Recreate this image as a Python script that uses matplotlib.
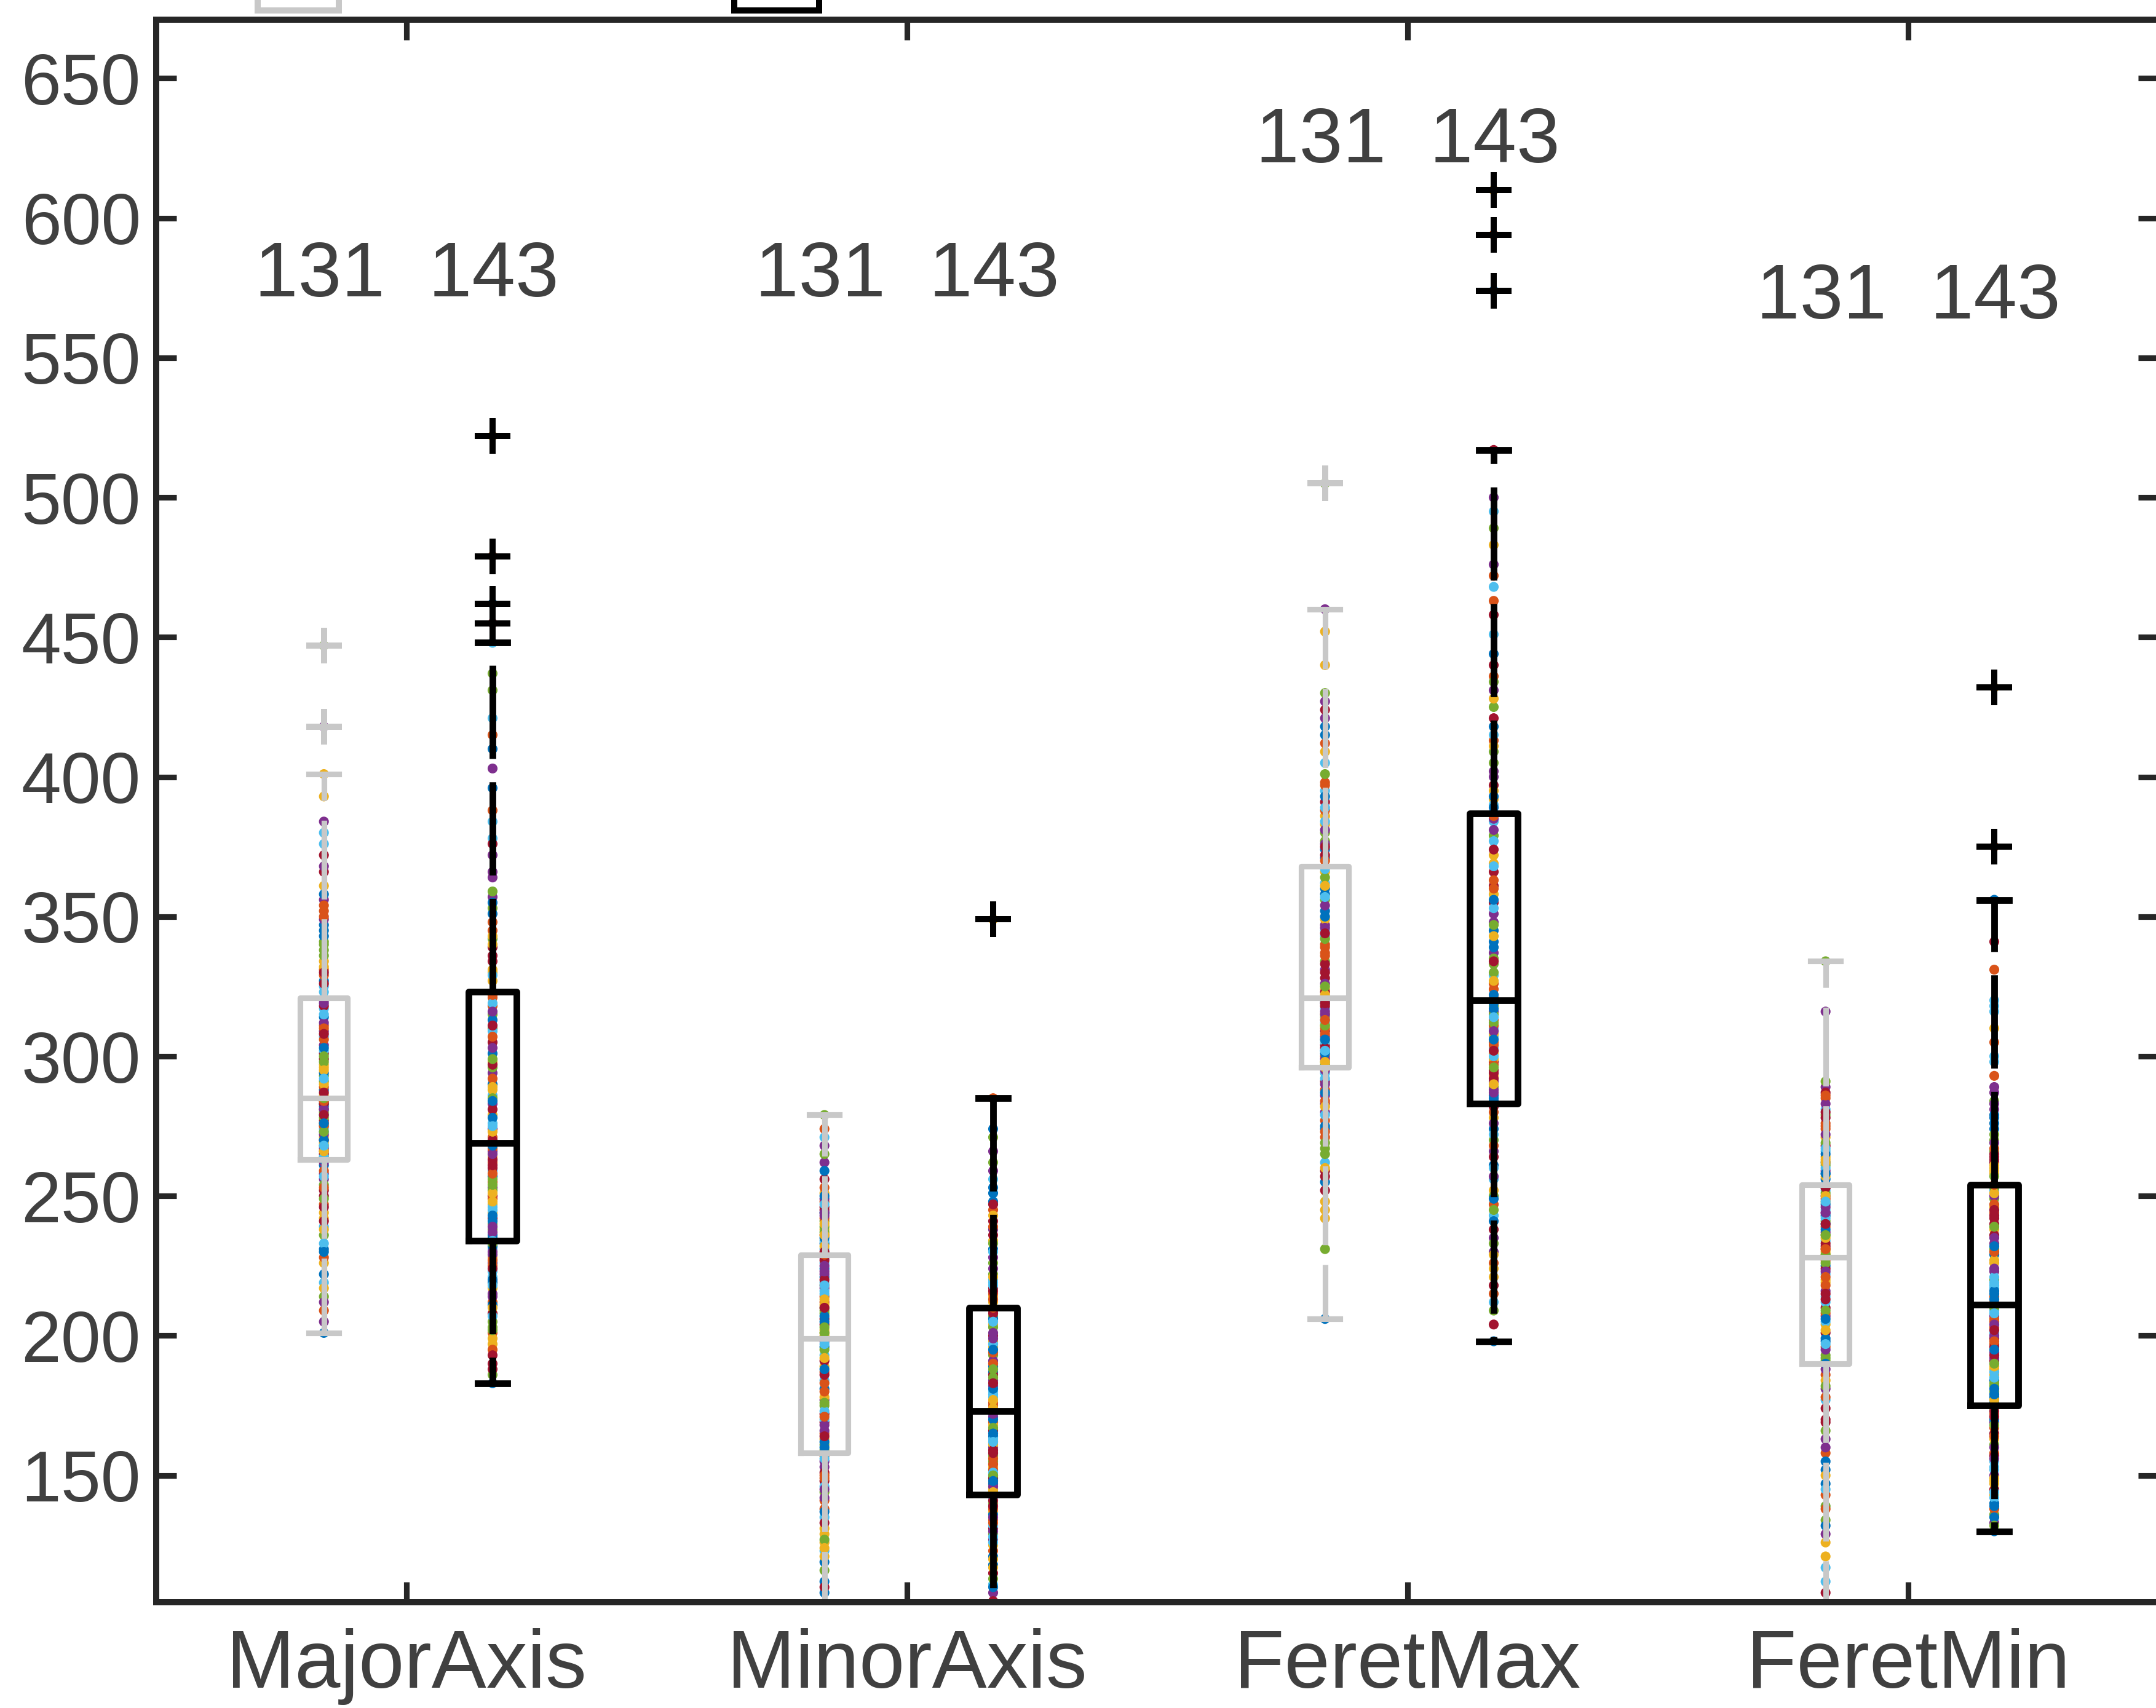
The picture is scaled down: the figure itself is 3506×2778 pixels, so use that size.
import numpy as np
import matplotlib
matplotlib.use('Agg')
import matplotlib.pyplot as plt
from matplotlib.patches import Rectangle

plt.rcParams['font.family'] = ['Liberation Sans', 'DejaVu Sans']

categories = ['MajorAxis', 'MinorAxis', 'FeretMax', 'FeretMin']

# ---------------- grey group (131 per feature) ----------------
grey_major = [201, 247, 226, 258, 214, 239, 252, 231, 209, 244, 256, 236, 219, 250, 261, 228, 242, 205, 254, 233,
              246, 222, 259, 238, 212, 249, 257, 241, 230, 253, 217, 262,
              264, 279, 270, 283, 266, 275, 281, 268, 273, 277, 263, 284, 271, 267, 280, 274, 265, 282, 276, 269,
              272, 278, 264, 283, 270, 275, 266, 281, 273, 268, 279, 276, 284,
              286, 304, 293, 317, 299, 288, 311, 296, 320, 291, 307, 301, 314, 289, 297, 309, 285, 302, 318, 294,
              306, 290, 312, 298, 315, 287, 303, 310, 295, 319, 300, 292, 308,
              327, 352, 334, 384, 341, 323, 366, 347, 329, 393, 356, 338, 325, 372, 345, 331, 361, 349, 336, 380,
              326, 343, 354, 332, 368, 340, 376, 330, 358, 350, 401,
              418, 447]
grey_minor = [112, 141, 126, 153, 104, 135, 148, 119, 157, 131, 98, 144, 123, 151, 108, 138, 129, 155, 116, 146,
              133, 101, 150, 121, 142, 127, 156, 110, 137, 149, 124, 145,
              161, 184, 172, 196, 165, 189, 177, 159, 193, 169, 181, 187, 163, 198, 175, 170, 191, 160, 183, 178,
              166, 195, 173, 186, 162, 180, 192, 168, 176, 197, 164, 188, 171,
              201, 217, 208, 226, 204, 221, 212, 200, 228, 210, 219, 206, 224, 214, 202, 222, 209, 216, 227, 205,
              218, 211, 225, 203, 215, 220, 207, 229, 213, 223, 201, 218, 210,
              233, 248, 238, 262, 241, 231, 256, 244, 236, 251, 268, 239, 234, 246, 259, 242, 232, 249, 237, 271,
              245, 235, 253, 240, 243, 265, 247, 230, 250, 274, 236, 244, 279]
grey_feretmax = [206, 271, 248, 286, 231, 262, 291, 255, 277, 242, 283, 267, 294, 259, 274, 288, 245, 280, 265, 292,
                 252, 275, 284, 260, 290, 269, 279, 257, 287, 273, 282, 295,
                 298, 312, 304, 319, 300, 315, 307, 297, 317, 309, 302, 320, 311, 299, 314, 305, 318, 301, 310, 296,
                 316, 306, 313, 303, 320, 308, 298, 315, 311, 302, 319, 306, 313,
                 324, 347, 334, 362, 328, 352, 340, 366, 331, 356, 343, 323, 360, 337, 349, 326, 364, 345, 333, 358,
                 339, 322, 354, 342, 367, 330, 350, 336, 361, 346, 325, 357, 344,
                 374, 398, 383, 421, 377, 405, 391, 371, 412, 386, 427, 380, 395, 372, 418, 388, 440, 376, 401, 384,
                 424, 393, 370, 409, 381, 430, 389, 375, 415, 397, 452, 460,
                 505]
grey_feretmin = [101, 158, 126, 181, 139, 112, 170, 147, 186, 121, 163, 134, 177, 108, 152, 143, 184, 129, 166, 117,
                 174, 155, 138, 98, 160, 182, 145, 169, 132, 178, 150, 188,
                 193, 214, 201, 225, 196, 219, 207, 191, 222, 210, 198, 227, 204, 216, 192, 212, 224, 199, 208, 220,
                 195, 226, 205, 213, 190, 218, 202, 223, 209, 197, 215, 206, 221,
                 230, 244, 236, 252, 232, 247, 239, 229, 250, 241, 234, 253, 243, 231, 248, 237, 251, 245, 233, 240,
                 249, 235, 246, 229, 242, 253, 238, 231, 250, 244, 236, 248, 240,
                 258, 276, 264, 289, 261, 281, 268, 256, 285, 271, 259, 279, 266, 287, 262, 274, 257, 283, 269, 260,
                 278, 265, 286, 263, 272, 291, 267, 280, 258, 275, 262, 316, 334]

# ---------------- black group (143 per feature) ----------------
black_major = [183, 212, 197, 226, 205, 231, 190, 219, 201, 228, 214, 186, 223, 208, 232, 195, 217, 229, 203, 221,
               188, 211, 225, 199, 215, 233, 207, 193, 220, 227, 210, 230, 202, 218, 224,
               236, 255, 244, 266, 240, 259, 250, 235, 262, 247, 253, 238, 268, 242, 257, 249, 264, 237, 252, 245,
               260, 241, 267, 251, 239, 256, 246, 263, 243, 258, 248, 265, 254, 234, 261, 268,
               271, 298, 283, 315, 276, 305, 290, 321, 279, 294, 310, 286, 270, 301, 318, 288, 274, 296, 309, 281,
               313, 292, 273, 303, 285, 319, 297, 278, 307, 289, 316, 299, 275, 311, 284, 322,
               331, 357, 342, 378, 336, 396, 348, 327, 366, 353, 384, 339, 410, 345, 330, 372, 359, 421, 334, 351,
               388, 343, 364, 431, 329, 376, 355, 415, 340, 403, 437, 448,
               455, 462, 479, 522]
black_minor = [118, 134, 102, 127, 140, 111, 131, 95, 123, 137, 108, 129, 142, 115, 136, 99, 125, 139, 113, 132,
               105, 121, 138, 117, 130, 92, 126, 141, 110, 133, 120, 135, 103, 128, 139,
               147, 162, 153, 171, 144, 158, 166, 150, 169, 145, 160, 155, 172, 148, 164, 152, 168, 143, 157, 163,
               149, 170, 154, 161, 146, 167, 151, 159, 165, 156, 144, 172, 150, 162, 158, 148,
               175, 196, 184, 207, 178, 200, 189, 174, 204, 182, 193, 180, 209, 187, 176, 198, 191, 203, 179, 186,
               206, 194, 177, 201, 185, 197, 208, 181, 190, 174, 199, 188, 205, 183, 195, 210,
               214, 238, 222, 256, 217, 231, 245, 212, 266, 226, 219, 241, 251, 215, 234, 228, 262, 220, 236, 248,
               213, 243, 224, 271, 230, 216, 253, 239, 221, 259, 233, 218, 247, 274, 285,
               349]
black_feretmax = [198, 247, 221, 266, 209, 256, 238, 274, 215, 252, 230, 270, 243, 204, 261, 226, 278, 235, 250, 212,
                  264, 241, 280, 224, 257, 233, 272, 218, 249, 268, 229, 276, 245, 260, 282,
                  286, 305, 293, 316, 289, 310, 298, 284, 313, 301, 291, 318, 307, 295, 285, 311, 299, 288, 315, 303,
                  292, 319, 297, 308, 287, 312, 300, 294, 317, 304, 290, 309, 296, 314, 302, 306,
                  324, 358, 337, 379, 329, 366, 345, 321, 372, 351, 333, 384, 361, 341, 326, 369, 348, 335, 377, 355,
                  322, 363, 343, 381, 330, 353, 374, 339, 360, 327, 385, 347, 368, 334, 356, 386,
                  392, 431, 405, 468, 397, 444, 413, 483, 400, 425, 390, 458, 418, 436, 395, 476, 409, 451, 421, 389,
                  463, 428, 402, 489, 415, 440, 393, 472, 411, 500, 434, 495, 517,
                  574, 594, 610]
black_feretmin = [130, 158, 143, 169, 136, 152, 165, 140, 172, 148, 133, 161, 155, 145, 170, 138, 163, 150, 174, 142,
                  157, 135, 167, 147, 160, 132, 153, 171, 139, 164, 149, 156, 168, 144, 173,
                  178, 197, 186, 207, 180, 201, 191, 176, 205, 188, 194, 182, 209, 199, 184, 203, 177, 192, 210, 187,
                  196, 179, 206, 189, 200, 183, 208, 193, 181, 198, 175, 204, 190, 185, 202, 195,
                  214, 238, 223, 249, 217, 242, 229, 212, 246, 233, 220, 252, 236, 215, 244, 226, 250, 231, 218, 240,
                  213, 247, 227, 235, 253, 221, 243, 216, 230, 251, 224, 239, 219, 245, 232, 254,
                  259, 281, 266, 298, 262, 274, 305, 258, 287, 270, 316, 263, 278, 293, 260, 269, 284, 320, 265, 276,
                  331, 261, 289, 272, 300, 264, 279, 267, 310, 283, 257, 318, 341, 356,
                  375, 432]

# box statistics
grey_q1 = [263, 158, 296, 190]
grey_med = [285, 199, 321, 228]
grey_q3 = [321, 229, 368, 254]
grey_lo = [201, 98, 206, 98]
grey_hi = [401, 279, 460, 334]

black_q1 = [234, 143, 283, 175]
black_med = [269, 173, 320, 211]
black_q3 = [323, 210, 387, 254]
black_lo = [183, 92, 198, 130]
black_hi = [448, 285, 517, 356]

count_label_y = [572, 572, 620, 564]

palette = ['#0072BD', '#D95319', '#EDB120', '#7E2F8E', '#77AC30', '#4DBEEE', '#A2142F']
grey = '#C8C8C8'
black = '#000000'
txt = '#404040'

W, H = 3506, 2778
fig = plt.figure(figsize=(W / 300, H / 300), dpi=300)
ax = fig.add_axes([254 / W, 172 / H, 3256 / W, (H - 32 - 172) / H])

pos = np.arange(1, 5)
groups = [
    ([grey_major, grey_minor, grey_feretmax, grey_feretmin], grey_q1, grey_med, grey_q3, grey_lo, grey_hi, -0.165, grey, 2.2),
    ([black_major, black_minor, black_feretmax, black_feretmin], black_q1, black_med, black_q3, black_lo, black_hi, 0.172, black, 2.6),
]

for data, q1, med, q3, lo, hi, off, col, lw in groups:
    stats = []
    for k in range(4):
        vals = np.array(data[k])
        stats.append(dict(med=med[k], q1=q1[k], q3=q3[k], whislo=lo[k], whishi=hi[k],
                          fliers=vals[(vals < lo[k]) | (vals > hi[k])]))
        ax.scatter(np.full(len(vals), pos[k] + off), vals, s=15, linewidths=0,
                   c=[palette[i % 7] for i in range(len(vals))], zorder=1)
    ax.bxp(stats, positions=pos + off, widths=0.095, capwidths=0.06, manage_ticks=False, zorder=2,
           boxprops=dict(color=col, lw=lw),
           medianprops=dict(color=col, lw=lw),
           whiskerprops=dict(color=col, lw=lw, linestyle=(0, (14, 3.5))),
           capprops=dict(color=col, lw=lw),
           flierprops=dict(marker='+', markersize=14, markeredgewidth=2.4, markeredgecolor=col, linestyle='none'))

# counts above each pair
for k in range(4):
    n1 = len(groups[0][0][k])
    n2 = len(groups[1][0][k])
    ax.text(pos[k], count_label_y[k], f'{n1}  {n2}', ha='center', va='baseline', fontsize=30.5, color=txt)

ax.set_xlim(0.5, 4.5)
ax.set_ylim(104.6, 671)
ax.set_xticks(pos)
ax.set_xticklabels(categories)
ax.set_yticks(np.arange(150, 651, 50))
ax.tick_params(direction='in', length=8, width=2.2, top=True, right=True, color='#262626', labelcolor=txt)
ax.tick_params(axis='y', labelsize=28, pad=6)
ax.tick_params(axis='x', labelsize=32, pad=10)
for s in ax.spines.values():
    s.set_linewidth(2.4)
    s.set_color('#262626')

# legend keys above the top edge; only their lower edges are inside the picture
for x0, x1, col in [(419, 551, grey), (1194, 1332, black)]:
    fig.add_artist(Rectangle((x0 / W, (H - 17) / H), (x1 - x0) / W, 120 / H, transform=fig.transFigure,
                             facecolor='white', edgecolor=col, lw=2.4, clip_on=False))

fig.savefig('out.png', dpi=300)
